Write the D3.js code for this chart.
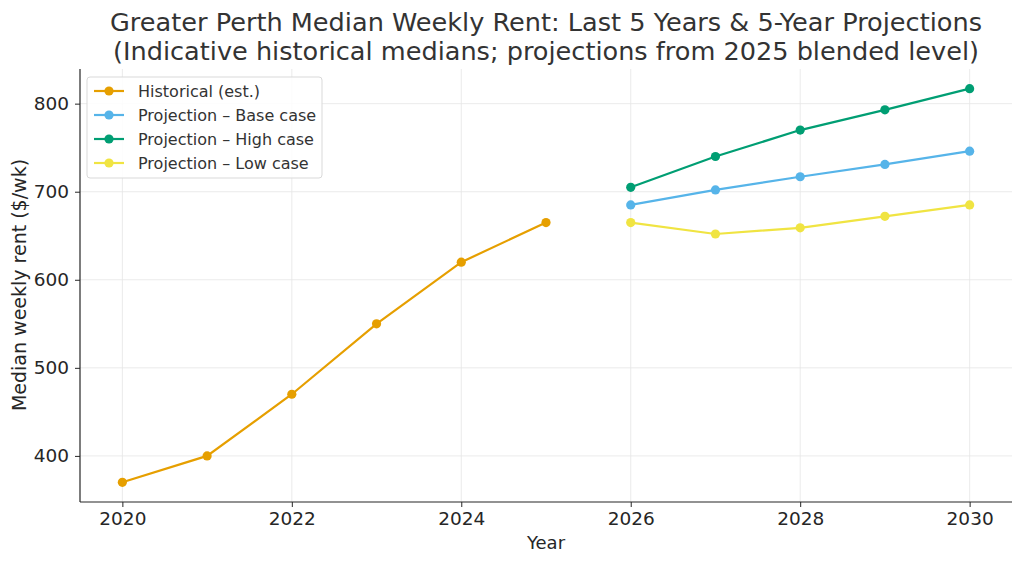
<!DOCTYPE html>
<html><head><meta charset="utf-8">
<script src="https://cdn.jsdelivr.net/npm/d3@7"></script>
<style>body{margin:0;background:#fff}svg{display:block;font-family:"DejaVu Sans",sans-serif}</style>
</head><body><svg id="c" width="1024" height="564"></svg>
<script>
const histYears=[2020,2021,2022,2023,2024,2025];
const histValues=[370,400,470,550,620,665];
const projYears=[2026,2027,2028,2029,2030];
const baseValues=[685,702,717,731,746];
const highValues=[705,740,770,793,817];
const lowValues=[665,652,659,672,685];
const xTicks=[2020,2022,2024,2026,2028,2030];
const yTicks=[400,500,600,700,800];
const seriesNames=["Historical (est.)","Projection – Base case","Projection – High case","Projection – Low case"];
const colors=["#E69F00","#56B4E9","#009E73","#F0E442"];

const svg=d3.select("#c");
const L=80,R=1012,T=69,B=502;
const x=d3.scaleLinear().domain([2019.5,2030.5]).range([L,R]);
const y=d3.scaleLinear().domain([347.65,839.35]).range([B,T]);

// grid
svg.append("g").selectAll("line").data(xTicks).join("line")
 .attr("x1",d=>x(d)).attr("x2",d=>x(d)).attr("y1",T).attr("y2",B)
 .attr("stroke","#e6e6e6").attr("stroke-width",0.8);
svg.append("g").selectAll("line").data(yTicks).join("line")
 .attr("x1",L).attr("x2",R).attr("y1",d=>y(d)).attr("y2",d=>y(d))
 .attr("stroke","#e6e6e6").attr("stroke-width",0.8);

const xa=svg.append("g").attr("transform",`translate(0,${B})`)
 .call(d3.axisBottom(x).tickValues(xTicks).tickFormat(d3.format("d")).tickSize(5).tickPadding(5));
const ya=svg.append("g").attr("transform",`translate(${L},0)`)
 .call(d3.axisLeft(y).tickValues(yTicks).tickSize(5).tickPadding(6));
[xa,ya].forEach(a=>{a.selectAll("text").attr("font-size",18.5).attr("fill","#262626").attr("font-family","DejaVu Sans");
 a.selectAll("line").attr("stroke","#262626");a.select(".domain").attr("stroke","#262626").attr("stroke-width",1.2);});
xa.select(".domain").attr("d",`M${L},0H${R}`);
ya.select(".domain").attr("d",`M0,${B}V${T}`);

const line=d3.line().x(d=>x(d[0])).y(d=>y(d[1]));
const series=[
 histYears.map((yr,i)=>[yr,histValues[i]]),
 projYears.map((yr,i)=>[yr,baseValues[i]]),
 projYears.map((yr,i)=>[yr,highValues[i]]),
 projYears.map((yr,i)=>[yr,lowValues[i]])
];
series.forEach((s,i)=>{
 svg.append("path").datum(s).attr("d",line).attr("fill","none").attr("stroke",colors[i]).attr("stroke-width",2.2);
 svg.append("g").selectAll("circle").data(s).join("circle")
  .attr("cx",d=>x(d[0])).attr("cy",d=>y(d[1])).attr("r",4.6).attr("fill",colors[i]);
});

// legend
const lg=svg.append("g");
lg.append("rect").attr("x",87).attr("y",77).attr("width",235).attr("height",101).attr("rx",3)
 .attr("fill","#fff").attr("fill-opacity",0.85).attr("stroke","#d9d9d9");
seriesNames.forEach((n,i)=>{
 const yy=91+i*24;
 lg.append("line").attr("x1",94).attr("x2",124).attr("y1",yy).attr("y2",yy).attr("stroke",colors[i]).attr("stroke-width",2.2);
 lg.append("circle").attr("cx",109).attr("cy",yy).attr("r",4.6).attr("fill",colors[i]);
 lg.append("text").attr("x",138).attr("y",yy+5.5).attr("font-size",16).attr("fill","#333").text(n);
});

// titles
svg.append("text").attr("x",546).attr("y",31).attr("text-anchor","middle").attr("font-size",24).attr("fill","#333")
 .attr("textLength",872).attr("lengthAdjust","spacingAndGlyphs")
 .text("Greater Perth Median Weekly Rent: Last 5 Years & 5-Year Projections");
svg.append("text").attr("x",546).attr("y",60).attr("text-anchor","middle").attr("font-size",24).attr("fill","#333")
 .attr("textLength",866).attr("lengthAdjust","spacingAndGlyphs")
 .text("(Indicative historical medians; projections from 2025 blended level)");
svg.append("text").attr("x",546).attr("y",549).attr("text-anchor","middle").attr("font-size",18).attr("fill","#262626").text("Year");
svg.append("text").attr("transform","translate(26,285) rotate(-90)").attr("text-anchor","middle").attr("font-size",19).attr("fill","#262626").text("Median weekly rent ($/wk)");
</script></body></html>
